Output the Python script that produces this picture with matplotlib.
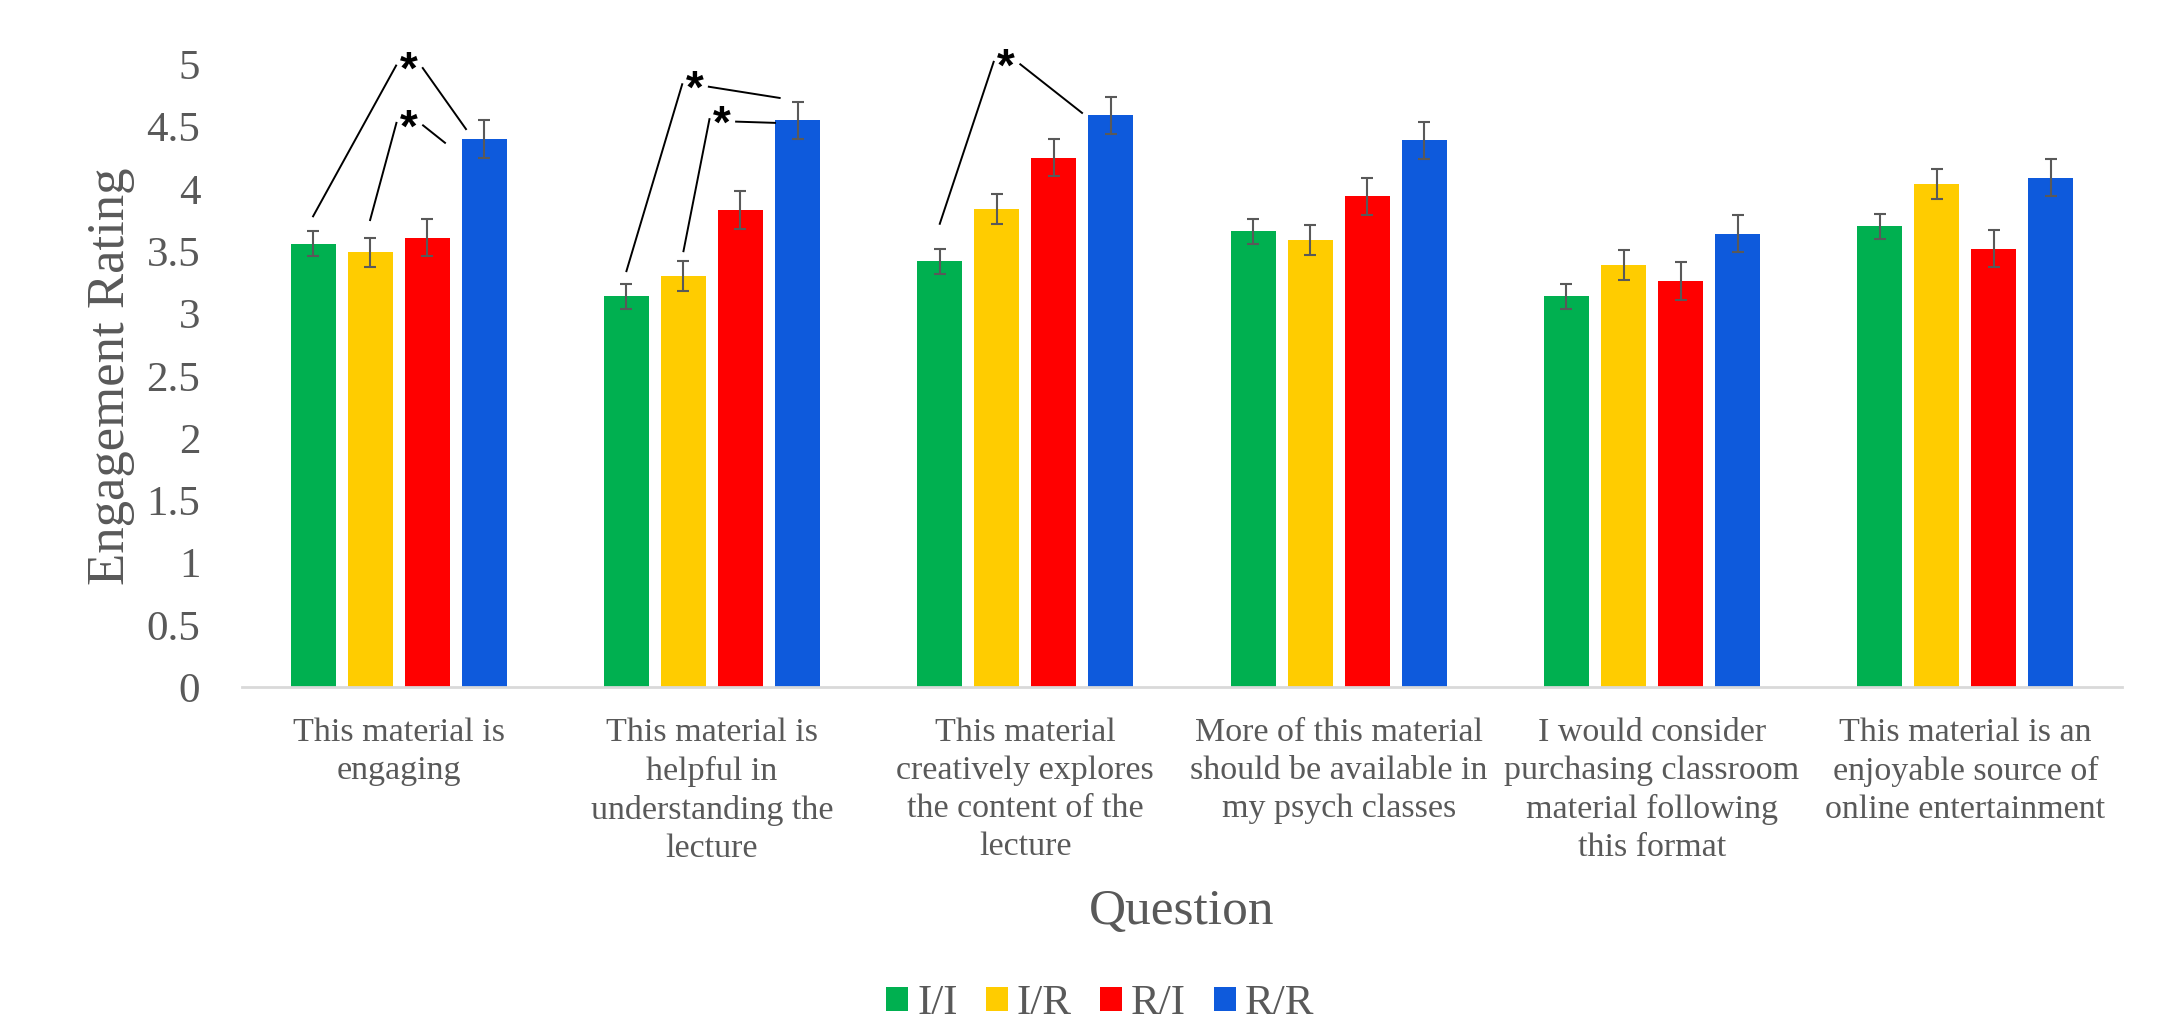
import matplotlib.pyplot as plt
import numpy as np


QUESTIONS = [
    "This material is\nengaging",
    "This material is\nhelpful in\nunderstanding the\nlecture",
    "This material\ncreatively explores\nthe content of the\nlecture",
    "More of this material\nshould be available in\nmy psych classes",
    "I would consider\npurchasing classroom\nmaterial following\nthis format",
    "This material is an\nenjoyable source of\nonline entertainment",
]

GROUPS = ["I/I", "I/R", "R/I", "R/R"]
COLORS = ["#00B050", "#FFCC00", "#FF0000", "#0E5ADC"]

II_MEAN = [3.56, 3.14, 3.42, 3.66, 3.14, 3.70]
IR_MEAN = [3.49, 3.30, 3.84, 3.59, 3.39, 4.04]
RI_MEAN = [3.61, 3.83, 4.25, 3.94, 3.26, 3.52]
RR_MEAN = [4.40, 4.55, 4.59, 4.39, 3.64, 4.09]

II_ERR = [0.10, 0.10, 0.10, 0.10, 0.10, 0.10]
IR_ERR = [0.12, 0.12, 0.12, 0.12, 0.12, 0.12]
RI_ERR = [0.15, 0.15, 0.15, 0.15, 0.15, 0.15]
RR_ERR = [0.15, 0.15, 0.15, 0.15, 0.15, 0.15]

# significance marks: question index, series the line starts from,
# star position and where the right-hand stroke ends
SIG_QUESTION = [0, 0, 1, 1, 2]
SIG_FROM = [0, 1, 0, 1, 0]
SIG_STAR_X = [0.032, 0.033, 0.945, 1.032, 1.939]
SIG_STAR_Y = [5.05, 4.59, 4.90, 4.62, 5.08]
SIG_END_X = [0.215, 0.148, 1.216, 1.201, 2.181]
SIG_END_Y = [4.48, 4.37, 4.73, 4.53, 4.61]
SIG_GAP = [0.12, 0.14, 0.10, 0.08, 0.20]


def main():
    plt.rcParams["font.family"] = ["Liberation Serif", "DejaVu Serif"]
    text_color = "#595959"

    means = [II_MEAN, IR_MEAN, RI_MEAN, RR_MEAN]
    errs = [II_ERR, IR_ERR, RI_ERR, RR_ERR]

    fig = plt.figure(figsize=(21.68, 10.24), dpi=100)
    ax = fig.add_axes([0.1116, 0.3288, 0.8672, 0.6084])

    x = np.arange(len(QUESTIONS))
    width = 0.144
    step = 0.182

    for i, name in enumerate(GROUPS):
        ax.bar(
            x + (i - 1.5) * step,
            means[i],
            width,
            color=COLORS[i],
            label=name,
            yerr=errs[i],
            error_kw=dict(ecolor=text_color, elinewidth=1.5,
                          capsize=4.5, capthick=1.5),
        )

    star_size = 33
    for k in range(len(SIG_QUESTION)):
        q = SIG_QUESTION[k]
        s = SIG_FROM[k]
        x0 = q + (s - 1.5) * step
        y0 = means[s][q] + errs[s][q] + SIG_GAP[k]
        sx, sy = SIG_STAR_X[k], SIG_STAR_Y[k]
        ax.plot([x0, sx - 0.04], [y0, sy - 0.06], color="black",
                lw=1.4, clip_on=False)
        ax.plot([sx + 0.045, SIG_END_X[k]], [sy - 0.08, SIG_END_Y[k]],
                color="black", lw=1.4, clip_on=False)
        ax.annotate("*", (sx, sy), xytext=(0, -0.57 * star_size),
                    textcoords="offset points", ha="center",
                    va="baseline", fontsize=star_size, fontweight="bold",
                    family="Liberation Sans", color="black",
                    annotation_clip=False)

    ax.set_xlim(-0.5, len(QUESTIONS) - 0.5)
    ax.set_ylim(0, 5)
    ax.set_yticks(np.arange(0, 5.01, 0.5))
    ax.set_yticklabels(["0", "0.5", "1", "1.5", "2", "2.5", "3",
                        "3.5", "4", "4.5", "5"])
    ax.set_xticks(x)
    ax.set_xticklabels(QUESTIONS, linespacing=1.32)

    ax.tick_params(axis="y", length=0, pad=30, labelsize=31,
                   labelcolor=text_color)
    ax.tick_params(axis="x", length=0, pad=22, labelsize=24.5,
                   labelcolor=text_color)

    for side in ["top", "right", "left"]:
        ax.spines[side].set_visible(False)
    ax.spines["bottom"].set_color("#d9d9d9")
    ax.spines["bottom"].set_linewidth(2)

    ax.set_ylabel("Engagement Rating", fontsize=38, color=text_color,
                  labelpad=8)
    ax.set_xlabel("Question", fontsize=37, color=text_color, labelpad=18)

    fig.legend(
        loc="center",
        bbox_to_anchor=(0.5076, 0.0195),
        ncol=4,
        frameon=False,
        fontsize=31,
        handlelength=0.51,
        handleheight=0.51,
        handletextpad=0.21,
        columnspacing=0.65,
        labelcolor=text_color,
    )

    fig.savefig("out.png", dpi=100)
    plt.close(fig)


if __name__ == "__main__":
    main()
